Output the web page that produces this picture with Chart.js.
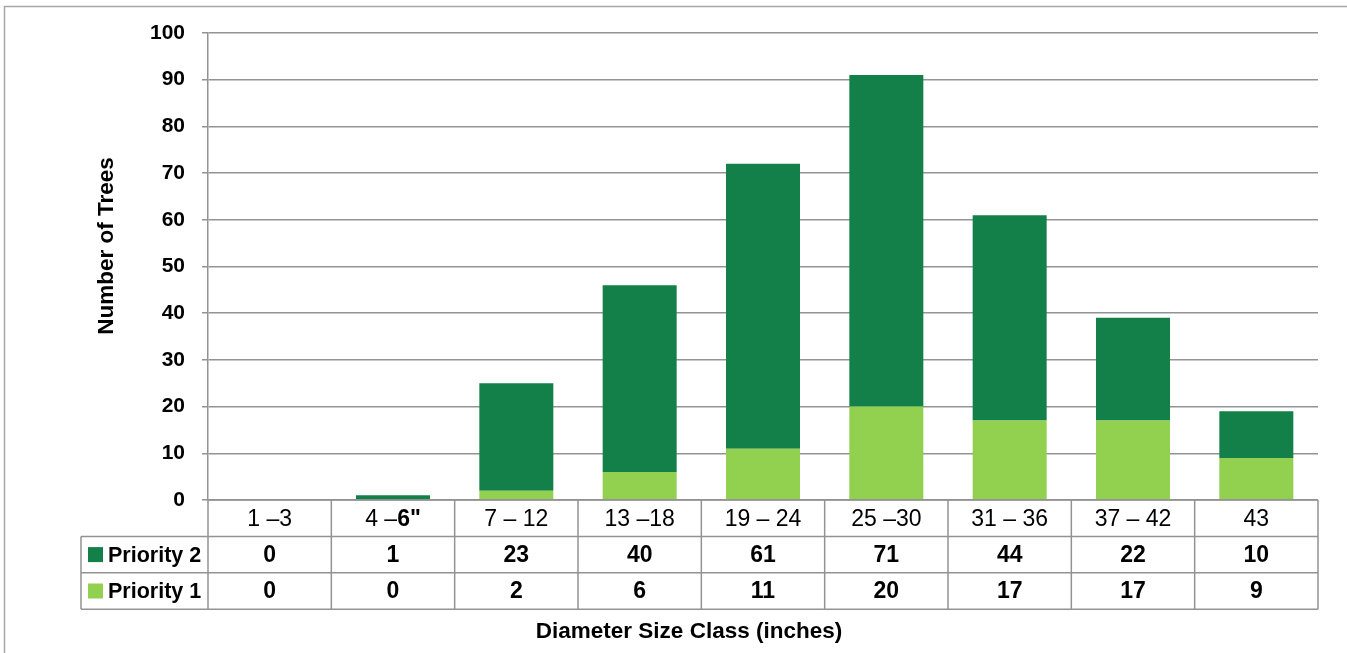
<!DOCTYPE html>
<html>
<head>
<meta charset="utf-8">
<title>Number of Trees by Diameter Size Class</title>
<script src="https://cdn.jsdelivr.net/npm/chart.js@4.4.1/dist/chart.umd.min.js"></script>
<style>
  html, body { margin: 0; padding: 0; background: #fff; }
  #wrap { width: 1347px; height: 653px; position: relative; }
  canvas { display: block; }
</style>
</head>
<body>
<div id="wrap"><canvas id="chart" width="1347" height="653"></canvas></div>
<script>
// Diameter size classes (inches)
const categories = ['1 –3', '4 –6"', '7 – 12', '13 –18', '19 – 24', '25 –30', '31 – 36', '37 – 42', '43'];
// Tree counts per class
const priority2 = [0, 1, 23, 40, 61, 71, 44, 22, 10];
const priority1 = [0, 0, 2, 6, 11, 20, 17, 17, 9];
// Y axis ticks
const yTicks = [0, 10, 20, 30, 40, 50, 60, 70, 80, 90, 100];

const seriesNames = ['Priority 2', 'Priority 1'];
const DARK = '#138049';
const LIGHT = '#92D050';
const LINE = '#939393';
const SANS = "'Liberation Sans', Arial, sans-serif";

// The label "4 –6"" carries a bold tail
const boldTails = { 1: '6"' };

const tablePlugin = {
  id: 'dataTable',
  afterDraw(chart) {
    const ctx = chart.ctx;
    const area = chart.chartArea;
    const xs = chart.scales.x;
    const n = categories.length;
    const cw = (area.right - area.left) / n;
    const top = area.bottom;
    const rowH = 36.4;
    const r1 = top + rowH, r2 = top + 2 * rowH, r3 = top + 3 * rowH;
    const legendLeft = 81;

    ctx.save();
    // outer frame
    ctx.strokeStyle = '#a6a6a6';
    ctx.lineWidth = 1.5;
    ctx.strokeRect(4.5, 6.5, 1400, 700);

    // table lines
    ctx.strokeStyle = LINE;
    ctx.lineWidth = 1.5;
    ctx.beginPath();
    ctx.moveTo(area.left, top); ctx.lineTo(area.right, top);
    [r1, r2, r3].forEach(y => { ctx.moveTo(legendLeft, y); ctx.lineTo(area.right, y); });
    ctx.moveTo(legendLeft, r1); ctx.lineTo(legendLeft, r3);
    for (let i = 0; i <= n; i++) {
      const x = area.left + i * cw;
      ctx.moveTo(x, top); ctx.lineTo(x, r3);
    }
    ctx.stroke();

    // legend cells and values
    const rows = [{ name: seriesNames[0], color: DARK, vals: priority2, y: r1 },
                  { name: seriesNames[1], color: LIGHT, vals: priority1, y: r2 }];
    ctx.textBaseline = 'middle';
    rows.forEach(r => {
      const cy = r.y + rowH / 2;
      ctx.fillStyle = r.color;
      ctx.fillRect(88, cy - 7.5, 15, 15);
      ctx.fillStyle = '#000';
      ctx.font = 'bold 21.5px ' + SANS;
      ctx.textAlign = 'left';
      ctx.fillText(r.name, 108, cy + 1);
      ctx.textAlign = 'center';
      ctx.font = 'bold 23px ' + SANS;
      r.vals.forEach((v, i) => {
        ctx.fillText(String(v), xs.getPixelForValue(i), cy + 1);
      });
    });

    // category labels
    const size = 23;
    categories.forEach((lab, i) => {
      const cx = xs.getPixelForValue(i);
      const cy = top + rowH / 2 + 1;
      const tail = boldTails[i];
      ctx.fillStyle = '#000';
      if (tail && lab.endsWith(tail)) {
        const head = lab.slice(0, lab.length - tail.length);
        ctx.font = size + 'px ' + SANS;
        const w1 = ctx.measureText(head).width;
        ctx.font = 'bold ' + size + 'px ' + SANS;
        const w2 = ctx.measureText(tail).width;
        const x = cx - (w1 + w2) / 2;
        ctx.textAlign = 'left';
        ctx.font = size + 'px ' + SANS;
        ctx.fillText(head, x, cy);
        ctx.font = 'bold ' + size + 'px ' + SANS;
        ctx.fillText(tail, x + w1, cy);
      } else {
        ctx.textAlign = 'center';
        ctx.font = size + 'px ' + SANS;
        ctx.fillText(lab, cx, cy);
      }
    });

    // axis titles
    ctx.fillStyle = '#000';
    ctx.textAlign = 'center';
    ctx.font = 'bold 22.5px ' + SANS;
    ctx.fillText('Diameter Size Class (inches)', 689, 632);
    ctx.translate(107, 246);
    ctx.rotate(-Math.PI / 2);
    ctx.font = 'bold 22.5px ' + SANS;
    ctx.fillText('Number of Trees', 0, 0);
    ctx.restore();
  }
};

new Chart(document.getElementById('chart'), {
  type: 'bar',
  data: {
    labels: categories,
    datasets: [
      { label: seriesNames[1], data: priority1, backgroundColor: LIGHT, borderWidth: 0 },
      { label: seriesNames[0], data: priority2, backgroundColor: DARK, borderWidth: 0 }
    ]
  },
  options: {
    responsive: false,
    animation: false,
    events: [],
    layout: { padding: { top: 33, right: 29, left: 0, bottom: 0 } },
    datasets: { bar: { barPercentage: 0.6, categoryPercentage: 1.0 } },
    plugins: { legend: { display: false }, tooltip: { enabled: false }, title: { display: false } },
    scales: {
      x: {
        stacked: true,
        grid: { display: false },
        border: { display: false },
        ticks: { display: false },
        afterFit(s) { s.height = 153; }
      },
      y: {
        stacked: true,
        min: 0,
        max: 100,
        afterBuildTicks(s) { s.ticks = yTicks.map(v => ({ value: v })); },
        ticks: {
          color: '#000',
          padding: 17,
          font: { family: SANS, size: 21, weight: 'bold' }
        },
        grid: { color: LINE, lineWidth: 1.5, tickLength: 6 },
        border: { color: LINE, width: 1.5 },
        afterFit(s) { s.width = 208; }
      }
    }
  },
  plugins: [tablePlugin]
});
</script>
</body>
</html>
